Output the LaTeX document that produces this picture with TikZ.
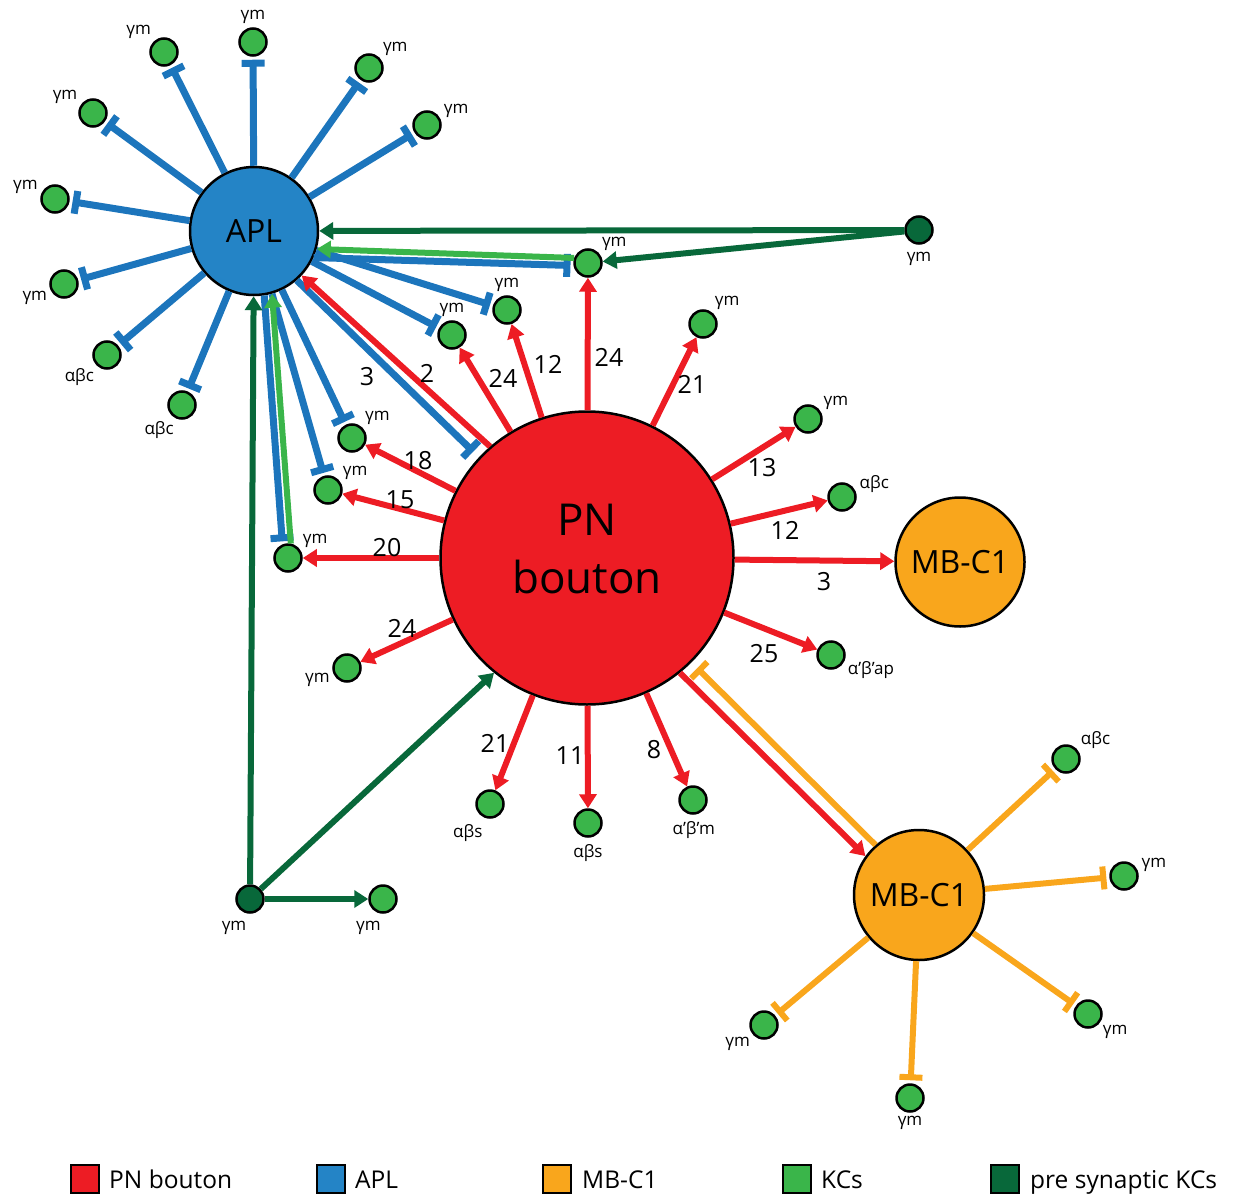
\documentclass[tikz,border=0pt]{standalone}
\usepackage{fontspec}
\setmainfont{Open Sans}
\usetikzlibrary{arrows.meta,positioning}

\definecolor{pnred}{HTML}{ED1C24}
\definecolor{aplfill}{HTML}{2484C6}
\definecolor{aplblue}{HTML}{1C75BC}
\definecolor{mborange}{HTML}{F9A61C}
\definecolor{kcgreen}{HTML}{3AB54A}
\definecolor{pregreen}{HTML}{08683A}

\tikzset{
  kc/.style={draw, circle, fill=kcgreen, line width=2.5pt, minimum size=27pt, inner sep=0pt},
  prekc/.style={kc, fill=pregreen},
  cell/.style={draw, circle, line width=2.5pt, inner sep=0pt},
  wt/.style={font=\fontsize{25}{28}\selectfont, inner sep=0pt},
  exc/.style={pnred, line width=6pt, -{Triangle[length=14pt,width=17pt]}},
  inh/.style={aplblue, line width=7pt, shorten >=3pt, -{Bar[width=23pt]}},
  mbinh/.style={mborange, line width=6pt, shorten >=3pt, -{Bar[width=23pt]}},
  prex/.style={pregreen, line width=6pt, -{Triangle[length=14pt,width=17pt]}},
  kcx/.style={kcgreen, line width=6pt, -{Triangle[length=14pt,width=17pt]}},
  legbox/.style={draw, line width=2pt, minimum width=28pt, minimum height=28pt, inner sep=0pt},
  legtext/.style={font=\fontsize{24.5}{28}\selectfont, inner sep=0pt, text height=18pt, text depth=0pt},
  low/.style={label distance=6pt}
}

\begin{document}
\begin{tikzpicture}[x=1pt, y=-1pt, label distance=2pt, every label/.style={font=\fontsize{17}{19}\selectfont, inner sep=1pt}]
\useasboundingbox (0,0) rectangle (1233,1198);

% cells
\node[cell, fill=aplfill, minimum size=128pt, font=\fontsize{32}{36}\selectfont] (apl) at (254,231) {APL};
\node[cell, fill=pnred, minimum size=293pt, align=center, text depth=18pt, font=\fontsize{44}{58}\selectfont] (pn) at (587,558) {PN\\bouton};
\node[cell, fill=mborange, minimum size=129pt, font=\fontsize{32}{36}\selectfont] (mbr) at (960,562) {MB-C1};
\node[cell, fill=mborange, minimum size=130pt, font=\fontsize{32}{36}\selectfont] (mbl) at (919,895) {MB-C1};

% KCs around APL
\node[kc, label=90:γm] (a1) at (253,42) {};
\node[kc, label=135:γm] (a2) at (164,52) {};
\node[kc, label=150:γm] (a3) at (93,113) {};
\node[kc, label=165:γm] (a4) at (55,199) {};
\node[kc, label=200:γm] (a5) at (64,284) {};
\node[kc, label=225:αβc] (a6) at (107,355) {};
\node[kc, label=245:αβc] (a7) at (182,405) {};
\node[kc, label=40:γm] (a8) at (369,68) {};
\node[kc, label=20:γm] (a9) at (427,125) {};

% KCs around PN bouton
\node[kc, label=40:γm] (k1) at (588,263) {};
\node[kc, label=90:γm] (k2) at (507,310) {};
\node[kc, label=90:γm] (k3) at (452,335) {};
\node[kc, label=50:γm] (k4) at (703,324) {};
\node[kc, label=30:γm] (k5) at (808,419) {};
\node[kc, label=10:αβc] (k6) at (842,497) {};
\node[kc, label=-20:α’β’ap] (k7) at (831,655) {};
\node[kc, label={[low]-88:α’β’m}] (k8) at (693,800) {};
\node[kc, label={[low]-90:αβs}] (k9) at (588,823) {};
\node[kc, label={[low]-108:αβs}] (k10) at (490,804) {};
\node[kc, label=195:γm] (k11) at (347,668) {};
\node[kc, label=35:γm] (k12) at (288,558) {};
\node[kc, label=35:γm] (k13) at (328,490) {};
\node[kc, label=45:γm] (k14) at (352,438) {};

% pre synaptic KCs
\node[prekc, label={[low]-90:γm}] (pre1) at (919,230) {};
\node[prekc, label={[low]-97:γm}] (pre2) at (250,899) {};
\node[kc, label={[low]-93:γm}] (k15) at (383,899) {};

% KCs around MB-C1
\node[kc, label=35:αβc] (m1) at (1066,759) {};
\node[kc, label=10:γm] (m2) at (1124,876) {};
\node[kc, label=-35:γm] (m3) at (1088,1014) {};
\node[kc, label=-90:γm] (m4) at (910,1098) {};
\node[kc, label=-140:γm] (m5) at (764,1025) {};

% APL output
\foreach \i in {1,...,9}
  \draw[inh] (apl) -- (a\i);
\foreach \k in {k2,k3,k13,k14}
  \draw[inh] (apl) -- (\k);
\draw[inh] (apl.-24) -- (k1.190);
\draw[inh] (apl.-81) -- (k12.112);
\draw[inh, shorten >=8pt] (apl.-49) -- (pn.137);

% PN bouton output
\foreach \i in {1,...,14}
  \draw[exc] (pn) -- (k\i);
\draw[exc] (pn) -- (mbr);
\draw[exc] (pn.131) -- (apl.-43);
\draw[exc] (pn.-51) -- (mbl.144);

% MB-C1 output
\foreach \i in {1,...,5}
  \draw[mbinh] (mbl) -- (m\i);
\draw[mbinh, shorten >=8pt] (mbl.131) -- (pn.-45);

% KC feedback
\draw[kcx] (k1.160) -- (apl.-16);
\draw[kcx] (k12.79) -- (apl.-74);
\draw[prex] (pre1) -- (apl);
\draw[prex] (pre1) -- (k1);
\draw[prex] (pre2) -- (apl);
\draw[prex] (pre2) -- (pn.-129);
\draw[prex] (pre2) -- (k15);

% synapse counts
\foreach \x/\y/\t [count=\i] in {367/377/3, 427/373/2, 503/378/24, 548/364/12,
    609/357/24, 692/384/21, 762/468/13, 785/530/12, 824/582/3, 764/654/25,
    654/750/8, 570/756/11, 495/743/21, 402/628/24, 387/548/20, 400/500/15, 418/461/18}
  \node[wt] (w\i) at (\x,\y) {\t};

% legend
\node[legbox, fill=pnred] (lg1) at (85,1179) {};
\node[legtext, right=9pt of lg1] (lt1) {PN bouton};
\node[legbox, fill=aplfill] (lg2) at (331,1179) {};
\node[legtext, right=9pt of lg2] (lt2) {APL};
\node[legbox, fill=mborange] (lg3) at (557,1179) {};
\node[legtext, right=10pt of lg3] (lt3) {MB-C1};
\node[legbox, fill=kcgreen] (lg4) at (797,1179) {};
\node[legtext, right=9pt of lg4] (lt4) {KCs};
\node[legbox, fill=pregreen] (lg5) at (1005,1179) {};
\node[legtext, right=10pt of lg5] (lt5) {pre synaptic KCs};
\end{tikzpicture}
\end{document}
